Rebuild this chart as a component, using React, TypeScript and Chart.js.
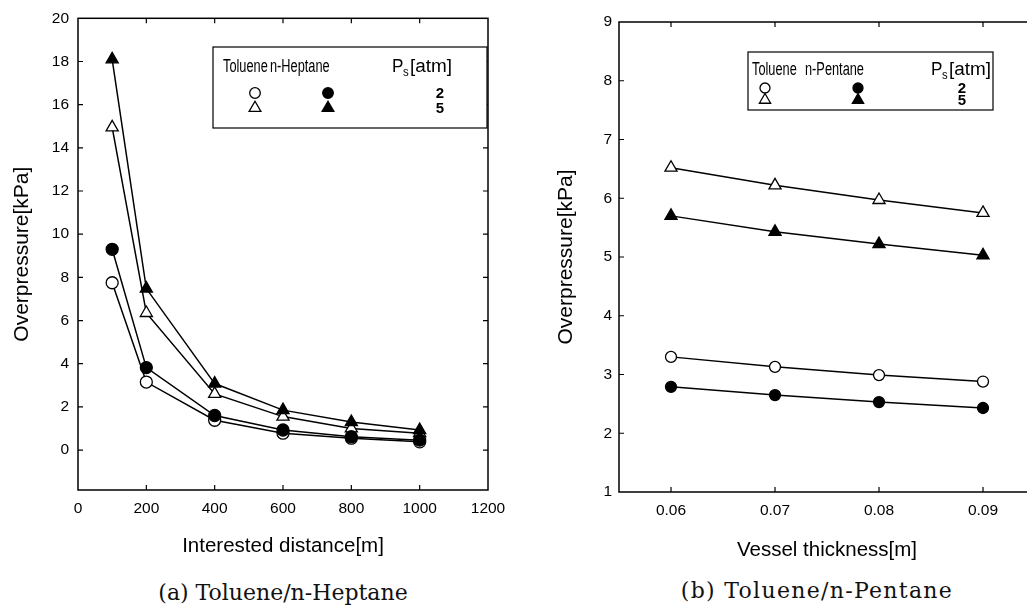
import React, { useEffect, useRef } from 'react';
import { Chart, registerables } from 'chart.js';

Chart.register(...registerables);

const SANS = '"Liberation Sans", Arial, Helvetica, sans-serif';
const SERIF = '"DejaVu Serif", "Liberation Serif", serif';

// ---------- (a) Toluene / n-Heptane ----------
const distances = [100, 200, 400, 600, 800, 1000];
const tolueneP2A = [7.75, 3.15, 1.38, 0.78, 0.55, 0.38];
const heptaneP2A = [9.3, 3.82, 1.6, 0.93, 0.62, 0.46];
const tolueneP5A = [14.95, 6.35, 2.6, 1.55, 1.0, 0.78];
const heptaneP5A = [18.1, 7.48, 3.08, 1.85, 1.3, 0.93];
const distTicks = [0, 200, 400, 600, 800, 1000, 1200];
const pressureTicksA = [0, 2, 4, 6, 8, 10, 12, 14, 16, 18, 20];

// ---------- (b) Toluene / n-Pentane ----------
const thickness = [0.06, 0.07, 0.08, 0.09];
const tolueneP2B = [3.3, 3.13, 2.99, 2.88];
const pentaneP2B = [2.79, 2.65, 2.53, 2.43];
const tolueneP5B = [6.52, 6.22, 5.97, 5.75];
const pentaneP5B = [5.7, 5.43, 5.22, 5.03];
const thicknessTicks = [0.06, 0.07, 0.08, 0.09];
const pressureTicksB = [1, 2, 3, 4, 5, 6, 7, 8, 9];

const legendHeadA = ['Toluene', 'n-Heptane'];
const legendHeadB = ['Toluene', 'n-Pentane'];
const legendPressures = ['2', '5'];

const toXY = (xs: number[], ys: number[]) => xs.map((x, i) => ({ x, y: ys[i] }));

function drawMarker(ctx: CanvasRenderingContext2D, style: string, filled: boolean, x: number, y: number, r: number) {
  ctx.beginPath();
  if (style === 'circle') {
    ctx.arc(x, y, r, 0, Math.PI * 2);
  } else {
    const s = (r * Math.sqrt(3)) / 2;
    ctx.moveTo(x, y - r);
    ctx.lineTo(x + s, y + r / 2);
    ctx.lineTo(x - s, y + r / 2);
    ctx.closePath();
  }
  ctx.fillStyle = filled ? '#000' : '#fff';
  ctx.fill();
  ctx.lineWidth = 1.3;
  ctx.strokeStyle = '#000';
  ctx.stroke();
}

function condensedText(ctx: CanvasRenderingContext2D, text: string, x: number, y: number, sx: number) {
  ctx.save();
  ctx.translate(x, y);
  ctx.scale(sx, 1);
  ctx.fillText(text, 0, 0);
  ctx.restore();
}

const framePlugin = {
  id: 'frameTicks',
  beforeDatasetsDraw(chart: any) {
    const { ctx, chartArea: a, scales } = chart;
    const xs = scales.x;
    const ys = scales.y;
    ctx.save();
    ctx.strokeStyle = '#000';
    ctx.lineWidth = 1.5;
    ctx.strokeRect(a.left, a.top, a.right - a.left, a.bottom - a.top);
    ctx.lineWidth = 1.2;
    const L = 5;
    xs.ticks.forEach((t: any) => {
      const px = xs.getPixelForValue(t.value);
      if (px <= a.left + 1 || px >= a.right - 1) return;
      ctx.beginPath();
      ctx.moveTo(px, a.bottom);
      ctx.lineTo(px, a.bottom - L);
      ctx.moveTo(px, a.top);
      ctx.lineTo(px, a.top + L);
      ctx.stroke();
    });
    ys.ticks.forEach((t: any) => {
      const py = ys.getPixelForValue(t.value);
      if (py <= a.top + 1 || py >= a.bottom - 1) return;
      ctx.beginPath();
      ctx.moveTo(a.left, py);
      ctx.lineTo(a.left + L, py);
      ctx.moveTo(a.right, py);
      ctx.lineTo(a.right - L, py);
      ctx.stroke();
    });
    ctx.restore();
  },
};

type LegendCfg = {
  box: { x: number; y: number; w: number; h: number };
  heads: string[];
  headY: number;
  headX: number[];
  pX: number;
  rowY: number[];
  symX: number[];
  numX: number;
  r: number;
};

function makeLegendPlugin(cfg: LegendCfg) {
  return {
    id: 'tableLegend',
    afterDraw(chart: any) {
      const ctx: CanvasRenderingContext2D = chart.ctx;
      const { box } = cfg;
      ctx.save();
      ctx.fillStyle = '#fff';
      ctx.fillRect(box.x, box.y, box.w, box.h);
      ctx.strokeStyle = '#000';
      ctx.lineWidth = 1.2;
      ctx.strokeRect(box.x, box.y, box.w, box.h);
      ctx.fillStyle = '#000';
      ctx.textBaseline = 'alphabetic';
      ctx.textAlign = 'left';
      ctx.font = `18px ${SANS}`;
      const hy = box.y + cfg.headY;
      cfg.heads.forEach((h, i) => condensedText(ctx, h, box.x + cfg.headX[i], hy, 0.71));
      // P_s[atm]
      condensedText(ctx, 'P', box.x + cfg.pX, hy, 0.95);
      ctx.font = `12px ${SANS}`;
      condensedText(ctx, 's', box.x + cfg.pX + 11, hy + 4, 0.95);
      ctx.font = `18px ${SANS}`;
      condensedText(ctx, '[atm]', box.x + cfg.pX + 18, hy, 1.05);
      // rows
      const styles = ['circle', 'triangle'];
      legendPressures.forEach((p, i) => {
        const y = box.y + cfg.rowY[i];
        const r = cfg.r + (i === 1 ? 1.5 : 0);
        drawMarker(ctx, styles[i], false, box.x + cfg.symX[0], y, r);
        drawMarker(ctx, styles[i], true, box.x + cfg.symX[1], y, r);
        ctx.fillStyle = '#000';
        ctx.textAlign = 'center';
        ctx.textBaseline = 'middle';
        ctx.font = `bold 15px ${SANS}`;
        ctx.fillText(p, box.x + cfg.numX, y + 1);
      });
      ctx.restore();
    },
  };
}

function makeDataset(data: any[], style: string, filled: boolean, r: number) {
  return {
    data,
    borderColor: '#000',
    borderWidth: 1.5,
    pointStyle: style,
    pointRadius: r,
    pointBackgroundColor: filled ? '#000' : '#fff',
    pointBorderColor: '#000',
    pointBorderWidth: 1.3,
    tension: 0,
    fill: false,
  };
}

function axisCommon(tickVals: number[], fmt: (v: number) => string, pad: number) {
  return {
    type: 'linear' as const,
    afterBuildTicks: (s: any) => {
      s.ticks = tickVals.map((v) => ({ value: v }));
    },
    grid: { display: false, drawTicks: false },
    border: { display: false },
    ticks: {
      font: { family: SANS, size: 15.5 },
      color: '#000',
      padding: pad,
      maxRotation: 0,
      autoSkip: false,
      callback: (v: any) => fmt(Number(v)),
    },
  };
}

function ChartA() {
  const ref = useRef<HTMLCanvasElement>(null);
  useEffect(() => {
    const chart = new Chart(ref.current as HTMLCanvasElement, {
      type: 'line',
      data: {
        datasets: [
          makeDataset(toXY(distances, heptaneP5A), 'triangle', true, 7),
          makeDataset(toXY(distances, heptaneP2A), 'circle', true, 6),
          makeDataset(toXY(distances, tolueneP5A), 'triangle', false, 7),
          makeDataset(toXY(distances, tolueneP2A), 'circle', false, 6),
        ] as any,
      },
      options: {
        animation: false,
        responsive: false,
        layout: { padding: { left: 0, right: 42, top: 18, bottom: 0 } },
        plugins: { legend: { display: false }, tooltip: { enabled: false } },
        scales: {
          x: {
            ...axisCommon(distTicks, (v) => String(v), 9),
            min: 0,
            max: 1200,
            afterFit: (s: any) => {
              s.height = 80;
            },
            title: {
              display: true,
              text: 'Interested distance[m]',
              font: { family: SANS, size: 20.5 },
              color: '#000',
              padding: { top: 0, bottom: 11 },
            },
          },
          y: {
            ...axisCommon(pressureTicksA, (v) => String(v), 9),
            min: -1.85,
            max: 20,
            afterFit: (s: any) => {
              s.width = 78;
            },
            title: {
              display: true,
              text: 'Overpressure[kPa]',
              font: { family: SANS, size: 21 },
              color: '#000',
              padding: { top: 10, bottom: 0 },
            },
          },
        } as any,
      },
      plugins: [
        framePlugin,
        makeLegendPlugin({
          box: { x: 213, y: 47, w: 274, h: 81 },
          heads: legendHeadA,
          headY: 25,
          headX: [10, 57],
          pX: 179,
          rowY: [46, 61],
          symX: [42, 115],
          numX: 227,
          r: 5.3,
        }),
      ],
    });
    return () => chart.destroy();
  }, []);
  return <canvas ref={ref} width={530} height={570} style={{ position: 'absolute', left: 0, top: 0, width: 530, height: 570 }} />;
}

function ChartB() {
  const ref = useRef<HTMLCanvasElement>(null);
  useEffect(() => {
    const chart = new Chart(ref.current as HTMLCanvasElement, {
      type: 'line',
      data: {
        datasets: [
          makeDataset(toXY(thickness, pentaneP5B), 'triangle', true, 7),
          makeDataset(toXY(thickness, pentaneP2B), 'circle', true, 5.5),
          makeDataset(toXY(thickness, tolueneP5B), 'triangle', false, 7),
          makeDataset(toXY(thickness, tolueneP2B), 'circle', false, 5.5),
        ] as any,
      },
      options: {
        animation: false,
        responsive: false,
        layout: { padding: { left: 0, right: 25, top: 22, bottom: 0 } },
        plugins: { legend: { display: false }, tooltip: { enabled: false } },
        scales: {
          x: {
            ...axisCommon(thicknessTicks, (v) => v.toFixed(2), 9),
            min: 0.055,
            max: 0.095,
            afterFit: (s: any) => {
              s.height = 78;
            },
            title: {
              display: true,
              text: 'Vessel thickness[m]',
              font: { family: SANS, size: 20.5 },
              color: '#000',
              padding: { top: 0, bottom: 7 },
            },
          },
          y: {
            ...axisCommon(pressureTicksB, (v) => String(v), 7),
            min: 1,
            max: 9,
            afterFit: (s: any) => {
              s.width = 89;
            },
            title: {
              display: true,
              text: 'Overpressure[kPa]',
              font: { family: SANS, size: 21 },
              color: '#000',
              padding: { top: 24, bottom: 0 },
            },
          },
        } as any,
      },
      plugins: [
        framePlugin,
        makeLegendPlugin({
          box: { x: 218, y: 52, w: 245, h: 58 },
          heads: legendHeadB,
          headY: 23,
          headX: [4, 57],
          pX: 183,
          rowY: [36, 48],
          symX: [17, 110],
          numX: 214,
          r: 5,
        }),
      ],
    });
    return () => chart.destroy();
  }, []);
  return <canvas ref={ref} width={530} height={570} style={{ position: 'absolute', left: 530, top: 0, width: 530, height: 570 }} />;
}

const captionStyle: React.CSSProperties = {
  position: 'absolute',
  width: 400,
  textAlign: 'center',
  fontFamily: SERIF,
  fontSize: 22,
  lineHeight: '26px',
  color: '#111',
  whiteSpace: 'nowrap',
};

export default function App() {
  return (
    <div style={{ position: 'fixed', left: 0, top: 0, width: 1027, height: 614, overflow: 'hidden', background: '#fff' }}>
      <ChartA />
      <ChartB />
      <div style={{ ...captionStyle, left: 283 - 200, top: 580 }}>(a) Toluene/n-Heptane</div>
      <div style={{ ...captionStyle, left: 817 - 200, top: 578, letterSpacing: 1.3 }}>(b) Toluene/n-Pentane</div>
    </div>
  );
}
